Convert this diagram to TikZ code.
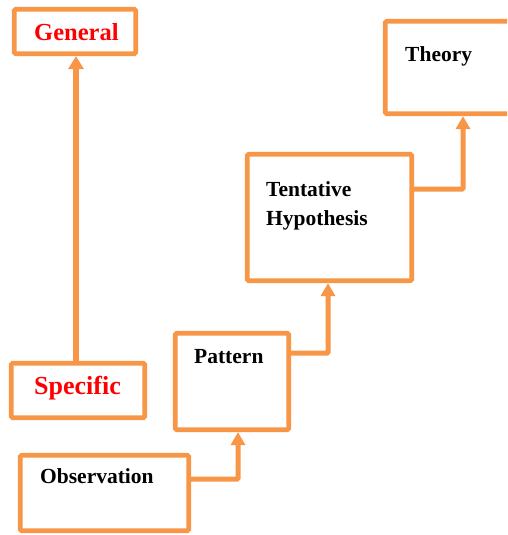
\documentclass[tikz,border=0pt]{standalone}
\usepackage{fontspec}
\setmainfont{Liberation Serif}
\usetikzlibrary{arrows.meta}
\definecolor{orng}{HTML}{F79646}
\definecolor{redtxt}{HTML}{FF0000}
\begin{document}
\begin{tikzpicture}[x=1pt,y=-1pt,
  box/.style={draw=orng, line width=4.7pt, rounded corners=1.5pt, fill=white, inner sep=0pt},
  conn/.style={draw=orng, line width=5pt, rounded corners=1pt,
    -{Triangle[width=14pt,length=13pt]}},
  blk/.style={anchor=base west, inner sep=0pt, font=\fontsize{21.5}{24}\selectfont\bfseries},
  redlbl/.style={anchor=base west, inner sep=0pt, text=redtxt, font=\fontsize{24.5}{28}\selectfont\bfseries}]
  \useasboundingbox (0,0) rectangle (507,535);
  \clip (0,0) rectangle (507,535);

  % boxes
  \node[box, minimum width=121.5pt, minimum height=44.5pt] (gen) at (75,31.5) {};
  \node[box, minimum width=133.5pt, minimum height=54.5pt] (spec) at (78,390.5) {};
  \node[box, minimum width=168.5pt, minimum height=75.5pt] (obs) at (104.5,493) {};
  \node[box, minimum width=113.5pt, minimum height=96.5pt] (pat) at (232,381.5) {};
  \node[box, minimum width=164.5pt, minimum height=126.5pt] (hyp) at (329.5,217.5) {};
  \node[box, minimum width=142.5pt, minimum height=92.5pt] (thy) at (456.5,67.5) {};

  % labels
  \node[redlbl] (tgen) at (34,41) {General};
  \node[redlbl, font=\fontsize{26}{30}\selectfont\bfseries] (tspec) at (34,394) {Specific};
  \node[blk] (tobs) at (40,483) {Observation};
  \node[blk] (tpat) at (194,363) {Pattern};
  \node[blk] (thyp1) at (266,196) {Tentative};
  \node[blk] (thyp2) at (266,225) {Hypothesis};
  \node[blk] (tthy) at (405,61) {Theory};

  % bends of the step connectors
  \coordinate (k1) at (238,479);
  \coordinate (k2) at (328,353);
  \coordinate (k3) at (463,189);

  % connectors
  \draw[conn, line width=5.5pt, -{Triangle[width=15pt,length=13pt]}]
    (spec.north -| 76,0) -- (gen.south -| 76,0);
  \draw[conn] (k1 -| obs.east) -| (k1 |- pat.south);
  \draw[conn] (k2 -| pat.east) -| (k2 |- hyp.south);
  \draw[conn] (k3 -| hyp.east) -| (k3 |- thy.south);
\end{tikzpicture}
\end{document}
